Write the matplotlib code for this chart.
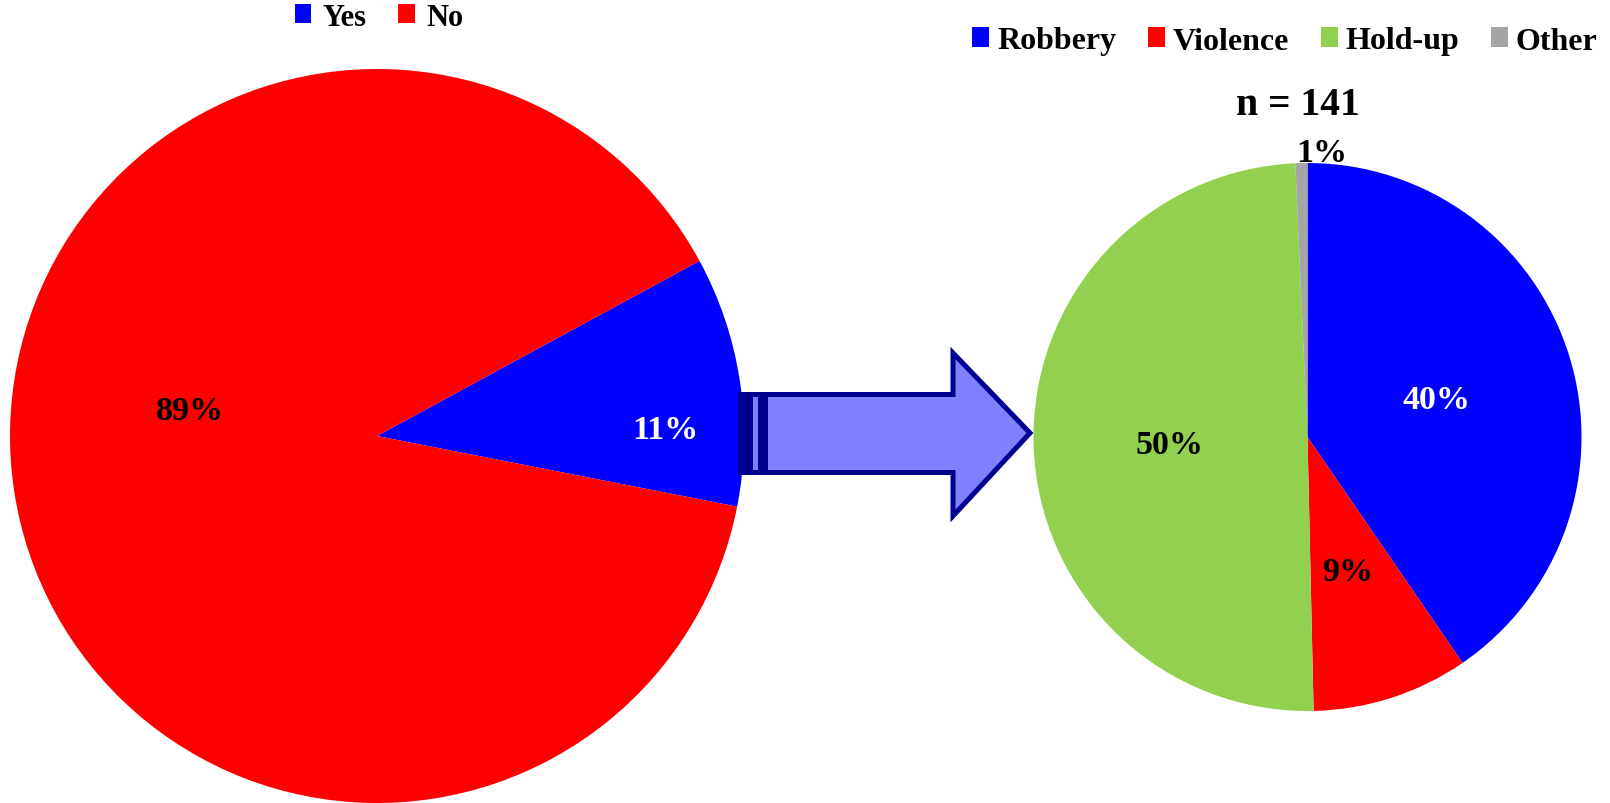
import matplotlib.pyplot as plt
from matplotlib.patches import Polygon, Rectangle

# data
victim_labels = ['Yes', 'No']
victim_share = [11, 89]

crime_labels = ['Robbery', 'Violence', 'Hold-up', 'Other']
crime_counts = [57, 13, 70, 1]

W, H = 1610, 804
plt.rcParams['font.family'] = ['Liberation Serif', 'DejaVu Serif']
plt.rcParams['font.weight'] = 'bold'


def px(x, y):
    # pixel position (origin top-left) -> figure fraction
    return (x / W, 1 - y / H)


def pie_axes(fig, cx, cy, r):
    x0, y0 = px(cx - r, cy + r)
    ax = fig.add_axes([x0, y0, 2 * r / W, 2 * r / H])
    ax.set_xlim(-1, 1)
    ax.set_ylim(-1, 1)
    ax.set_aspect('equal')
    ax.axis('off')
    return ax


fig = plt.figure(figsize=(W / 100, H / 100), dpi=100)

# left pie
ax1 = pie_axes(fig, 377, 437, 367)
w1, _ = ax1.pie(victim_share, colors=['#0000FF', '#FF0000'], startangle=28.5,
                counterclock=False, radius=1, wedgeprops=dict(linewidth=0))
ax1.set_xlim(-1, 1)
ax1.set_ylim(-1, 1)
tot1 = sum(victim_share)
ax1.text(0.787, -0.005, f'{round(100 * victim_share[0] / tot1)}%', color='white',
         fontsize=24.5, ha='center', va='baseline')
ax1.text(-0.51, 0.046, f'{round(100 * victim_share[1] / tot1)}%', color='black',
         fontsize=24.5, ha='center', va='baseline')

# right pie
ax2 = pie_axes(fig, 1307.5, 438, 274)
w2, _ = ax2.pie(crime_counts, colors=['#0000FF', '#FF0000', '#92D050', '#A5A5A5'],
                startangle=90, counterclock=False, radius=1,
                wedgeprops=dict(linewidth=0))
ax2.set_xlim(-1, 1)
ax2.set_ylim(-1, 1)
tot2 = sum(crime_counts)
pct = [f'{round(100 * c / tot2)}%' for c in crime_counts]
ax2.text(0.469, 0.106, pct[0], color='white', fontsize=24.5, ha='center', va='baseline')
ax2.text(0.148, -0.522, pct[1], color='black', fontsize=24.5, ha='center', va='baseline')
ax2.text(-0.502, -0.058, pct[2], color='black', fontsize=24.5, ha='center', va='baseline')
ax2.text(0.053, 1.007, pct[3], color='black', fontsize=24.5, ha='center', va='baseline',
         clip_on=False)

fig.text(*px(1298, 115), f'n = {tot2}', fontsize=28.5, ha='center', va='baseline')

# legends
fig.legend(w1, victim_labels, loc='center', bbox_to_anchor=px(379, 18), ncol=2,
           frameon=False, fontsize=22, handlelength=0.55, handleheight=0.6,
           handletextpad=0.36, columnspacing=1.05, borderpad=0)
fig.legend(w2, crime_labels, loc='center', bbox_to_anchor=px(1285, 42), ncol=4,
           frameon=False, fontsize=23, handlelength=0.52, handleheight=0.58,
           handletextpad=0.25, columnspacing=1.0, borderpad=0)

# striped arrow between the pies
edge = '#000090'
fill = '#8080FF'
arrow = [px(765.5, 395.5), px(953, 395.5), px(953, 354), px(1030, 434),
         px(953, 517), px(953, 473.5), px(765.5, 473.5)]
fig.add_artist(Polygon(arrow, closed=True, facecolor=fill, edgecolor=edge,
                       linewidth=3.6, joinstyle='miter', transform=fig.transFigure,
                       zorder=5))
fig.add_artist(Rectangle(px(738, 476), 28 / W, 83 / H, facecolor=edge, edgecolor='none',
                         transform=fig.transFigure, zorder=6))
fig.add_artist(Rectangle(px(753, 471), 5 / W, 73 / H, facecolor=fill, edgecolor='none',
                         transform=fig.transFigure, zorder=7))

fig.savefig('out.png', dpi=100)
